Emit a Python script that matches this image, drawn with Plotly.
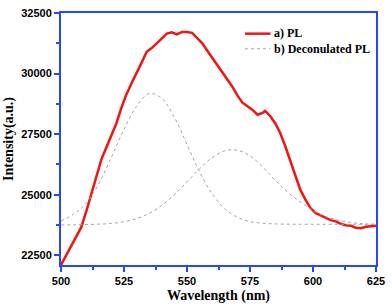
import plotly.graph_objects as go

# PL spectrum
pl_wavelength = [500, 502, 504, 506, 508, 510, 512, 514, 516, 518, 520, 522, 524, 526, 528, 530,
                 532, 534, 536, 538, 540, 542, 544, 546, 548, 550, 552, 554, 556, 558, 560, 562,
                 564, 566, 568, 570, 572, 574, 576, 578, 580, 581, 583, 585, 587, 589, 591, 593,
                 595, 597, 599, 601, 603, 605, 607, 609, 611, 613, 615, 617, 619, 621, 623, 625]
pl_intensity = [22100, 22500, 22900, 23300, 23650, 24300, 25000, 25700, 26450, 26950, 27450, 27950,
                28600, 29150, 29600, 30000, 30450, 30900, 31050, 31250, 31450, 31650, 31700, 31620,
                31720, 31720, 31680, 31450, 31260, 30950, 30660, 30350, 30060, 29750, 29460, 29100,
                28800, 28650, 28500, 28300, 28380, 28460, 28250, 27950, 27550, 27000, 26400, 25750,
                25200, 24800, 24450, 24250, 24150, 24050, 23950, 23900, 23800, 23740, 23720, 23640,
                23620, 23680, 23690, 23720]

# Deconvoluted components
dec_wavelength = [500, 505, 510, 515, 520, 525, 530, 535, 540, 545, 550, 555, 560, 565,
                  570, 575, 580, 585, 590, 595, 600, 605, 610, 615, 620, 625]
dec1_intensity = [23920, 24200, 24650, 25450, 26550, 27700, 28650, 29180, 28980, 28190, 27070,
                  25940, 25030, 24420, 24070, 23890, 23825, 23795, 23785, 23780, 23780, 23780,
                  23780, 23780, 23780, 23780]
dec2_intensity = [23750, 23760, 23770, 23785, 23817, 23887, 24015, 24231, 24558, 25000, 25530,
                  26075, 26535, 26813, 26839, 26600, 26150, 25600, 25100, 24700, 24350, 24100,
                  23950, 23860, 23800, 23780]

x_ticks = [500, 525, 550, 575, 600, 625]
y_ticks = [22500, 25000, 27500, 30000, 32500]

legend_labels = ["a) PL", "b) Deconulated PL"]

AXIS_BLUE = "rgb(40,70,250)"
GRAY = "rgb(165,165,165)"
RED = "rgb(240,20,20)"

fig = go.Figure()
fig.add_trace(go.Scatter(x=pl_wavelength, y=pl_intensity, mode="lines", name=legend_labels[0],
                         line=dict(color=RED, width=2.5)))
fig.add_trace(go.Scatter(x=dec_wavelength, y=dec1_intensity, mode="lines", name=legend_labels[1],
                         line=dict(color=GRAY, width=1, dash="dot", shape="spline")))
fig.add_trace(go.Scatter(x=dec_wavelength, y=dec2_intensity, mode="lines", name=legend_labels[1],
                         line=dict(color=GRAY, width=1, dash="dot", shape="spline")))

# compact legend (drawn in paper coordinates): one two-line text block + line samples
legend_font = dict(family="Liberation Serif, Times New Roman", size=12, color="black", weight="bold")
legend_styles = [dict(color=RED, width=2.5), dict(color=GRAY, width=1, dash="dot")]
legend_rows_y = [0.918, 0.858]
for style, ly in zip(legend_styles, legend_rows_y):
    fig.add_shape(type="line", xref="paper", yref="paper", x0=0.584, x1=0.665, y0=ly, y1=ly,
                  line=style)
fig.add_annotation(xref="paper", yref="paper", x=0.671, y=sum(legend_rows_y) / 2,
                   text="<br>".join(legend_labels), showarrow=False, align="left",
                   xanchor="left", yanchor="middle", font=legend_font)

tick_font = dict(family="Liberation Sans, Arial", size=11, color="black", weight="bold")
title_font = dict(family="Liberation Serif, Times New Roman", size=14, color="black", weight="bold")

fig.update_layout(
    width=392, height=308,
    margin=dict(l=58, r=12, t=7, b=41),
    plot_bgcolor="white", paper_bgcolor="white",
    showlegend=False,
    xaxis=dict(range=[500, 625], tickvals=x_ticks, ticktext=[str(v) for v in x_ticks],
               showgrid=False, zeroline=False, showline=True, linecolor=AXIS_BLUE, linewidth=2,
               mirror=True, ticks="outside", ticklen=5, tickwidth=1.5, tickcolor=AXIS_BLUE,
               tickfont=tick_font,
               minor=dict(tickvals=[512.5, 537.5, 562.5, 587.5, 612.5], ticks="outside",
                          ticklen=3, tickwidth=1.5, tickcolor=AXIS_BLUE),
               title=dict(text="Wavelength (nm)", font=title_font, standoff=4)),
    yaxis=dict(range=[22100, 32500], tickvals=y_ticks, ticktext=[str(v) for v in y_ticks],
               showgrid=False, zeroline=False, showline=True, linecolor=AXIS_BLUE, linewidth=2,
               mirror=True, ticks="outside", ticklen=5, tickwidth=1.5, tickcolor=AXIS_BLUE,
               tickfont=tick_font,
               minor=dict(tickvals=[23750, 26250, 28750, 31250], ticks="outside",
                          ticklen=3, tickwidth=1.5, tickcolor=AXIS_BLUE),
               title=dict(text="Intensity(a.u.)", font=title_font, standoff=4)),
)

fig.write_html("out.html", config={"displayModeBar": False},
               post_script="document.body.style.margin='0';document.body.style.overflow='hidden';")
